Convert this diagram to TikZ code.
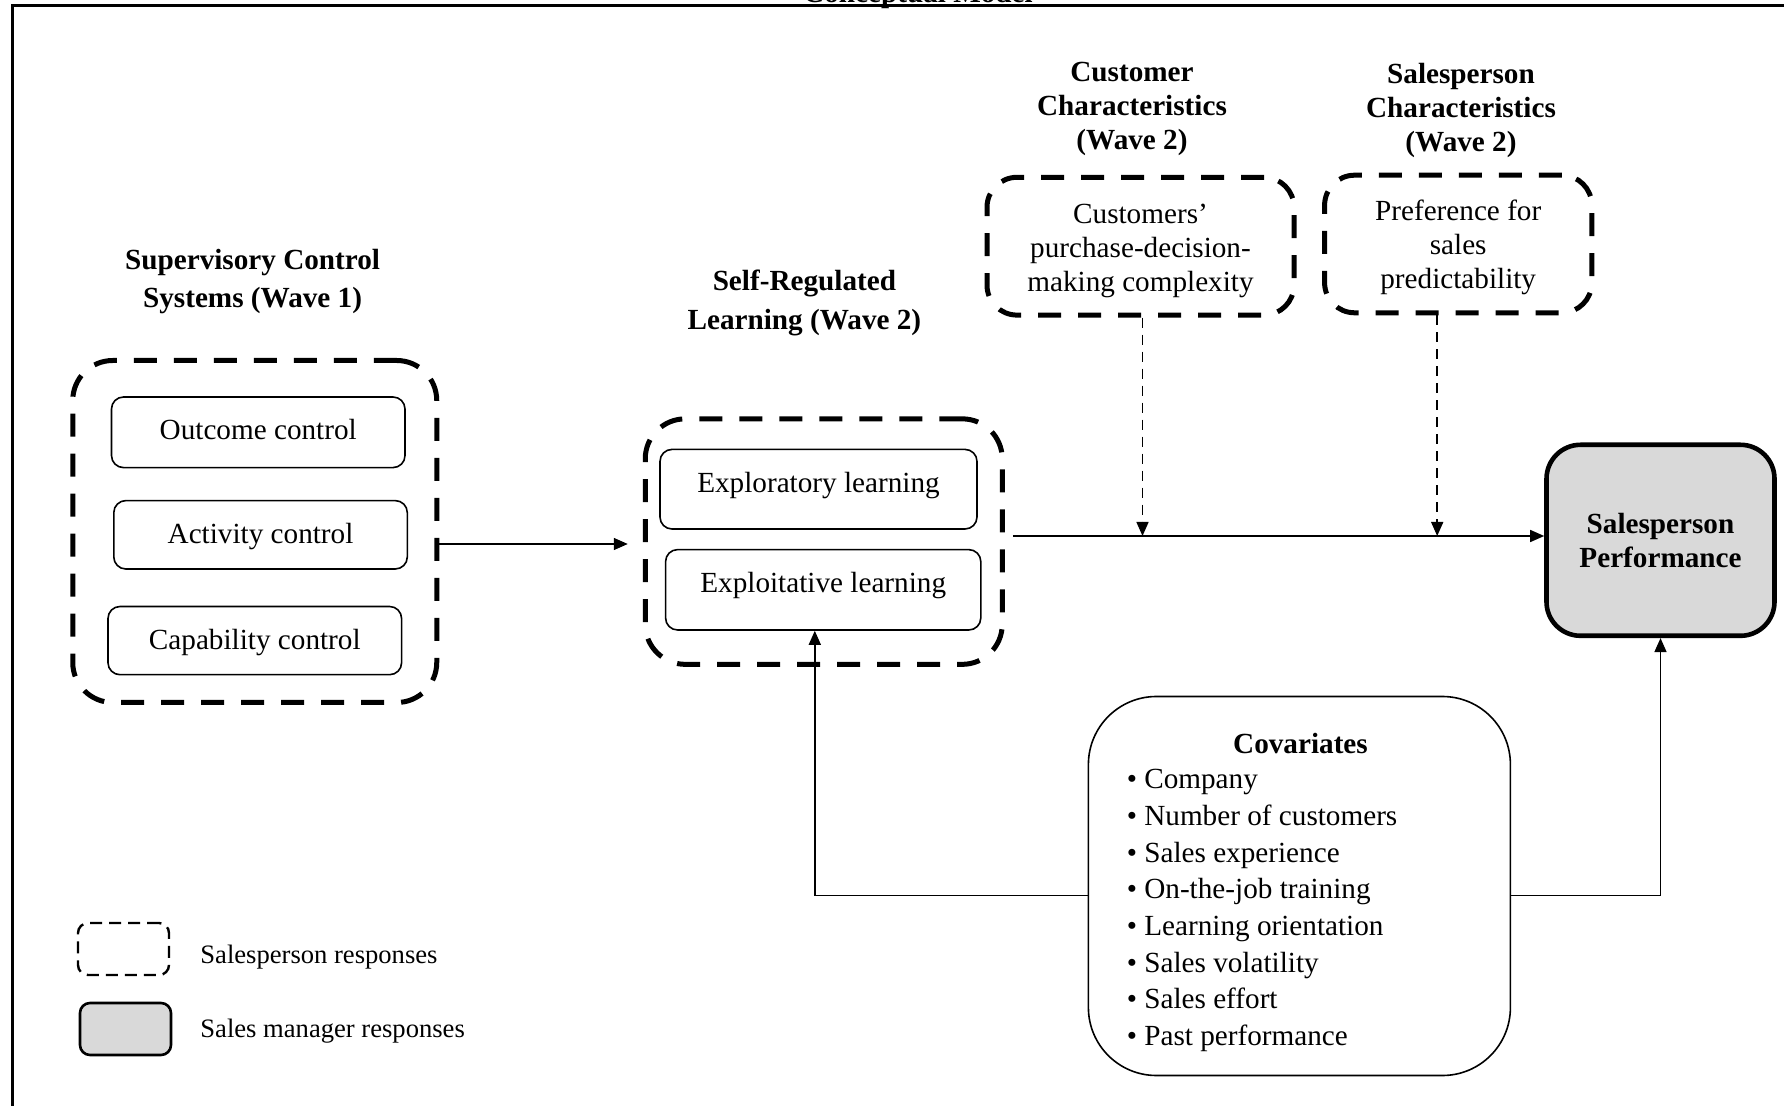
\documentclass[tikz,border=0pt]{standalone}
\usepackage{fontspec}
\setmainfont{Liberation Serif}
\usetikzlibrary{arrows.meta}
\definecolor{boxgray}{HTML}{D9D9D9}
\begin{document}
\begin{tikzpicture}[x=0.5pt,y=-0.5pt,
  every node/.style={font=\fontsize{14.6}{17.5}\selectfont},
  grp/.style={draw,line width=2.5pt,dash pattern=on 11.5pt off 8.5pt,rounded corners=20pt,inner sep=0pt},
  inbox/.style={draw,line width=0.8pt,rounded corners=6pt,inner sep=0pt},
  txt/.style={inner sep=0pt,align=center},
  hdr/.style={align=center,inner sep=0pt,font=\fontsize{14.6}{19.3}\selectfont\bfseries},
  arr/.style={line width=0.75pt,-{Triangle[length=7pt,width=6pt]}},
  darr/.style={arr,dash pattern=on 5pt off 3.5pt},
]
\clip (0,0) rectangle (1784,1106);
\fill[white] (0,0) rectangle (1784,1106);
% frame and clipped title
\draw[line width=1.5pt] (12,1120) -- (12,6) -- (1800,6);
\node[anchor=base,inner sep=0pt,font=\fontsize{14.6}{17}\selectfont\bfseries] (title) at (918,2.7) {Conceptual Model};

% headers
\node[hdr] (h1) at (252.6,281.5) {Supervisory Control\\Systems (Wave 1)};
\node[hdr] (h2) at (804.4,303.2) {Self-Regulated\\Learning (Wave 2)};
\node[hdr,font=\fontsize{14.6}{17.1}\selectfont\bfseries] (h3) at (1132,108.8) {Customer\\Characteristics\\(Wave 2)};
\node[hdr,font=\fontsize{14.6}{17.1}\selectfont\bfseries] (h4) at (1461,110.5) {Salesperson\\Characteristics\\(Wave 2)};

% left group
\node[grp,minimum width=182pt,minimum height=171pt] (g1) at (254.75,531.5) {};
\node[inbox,minimum width=146.75pt,minimum height=35.3pt] (oc) at (258.25,432.3) {};
\node[txt] (ocT) at (258.25,430) {Outcome control};
\node[inbox,minimum width=146.75pt,minimum height=34.2pt] (ac) at (260.55,534.8) {};
\node[txt] (acT) at (260.55,537) {Activity control};
\node[inbox,minimum width=146.8pt,minimum height=34.1pt] (cc) at (254.8,640.6) {};
\node[txt] (ccT) at (254.8,642.9) {Capability control};

% middle group
\node[grp,minimum width=178.5pt,minimum height=122.75pt] (g2) at (823.75,541.6) {};
\node[inbox,minimum width=158.5pt,minimum height=39.8pt] (ex1) at (818.5,489.2) {};
\node[txt] (ex1T) at (818.5,485.8) {Exploratory learning};
\node[inbox,minimum width=157.6pt,minimum height=40.2pt] (ex2) at (823.2,589.8) {};
\node[txt] (ex2T) at (823.2,585.3) {Exploitative learning};

% moderator boxes
\node[grp,rounded corners=15pt,minimum width=153.5pt,minimum height=68.9pt] (cust) at (1140.5,246.2) {};
\node[txt,font=\fontsize{14.6}{17.1}\selectfont] (custT) at (1140.5,250.7) {Customers’\\purchase-decision-\\making complexity};
\node[grp,rounded corners=15pt,minimum width=133.6pt,minimum height=68.8pt] (sal) at (1458.2,244) {};
\node[txt,font=\fontsize{14.6}{17.1}\selectfont] (salT) at (1458.2,247.4) {Preference for\\sales\\predictability};

% outcome
\node[draw,line width=2.3pt,fill=boxgray,rounded corners=17pt,minimum width=114pt,minimum height=95.5pt,inner sep=0pt,align=center,font=\fontsize{14.6}{17}\selectfont\bfseries] (sp) at (1660.5,540.3) {Salesperson\\Performance};

% covariates
\node[draw,line width=0.8pt,rounded corners=34pt,minimum width=211pt,minimum height=189.5pt] (cov) at (1299.4,886) {};
\node[inner sep=0pt,font=\fontsize{14.6}{17.5}\selectfont\bfseries] (covT) at (1300.5,744) {Covariates};
\node[inner sep=0pt,align=left,anchor=west,font=\fontsize{14.6}{18.35}\selectfont] (covL) at (1126.4,910.5) {• Company\\• Number of customers\\• Sales experience\\• On-the-job training\\• Learning orientation\\• Sales volatility\\• Sales effort\\• Past performance};

% connectors
\coordinate (lOut) at ([yshift=-6.25pt]g1.east);
\coordinate (g2L) at ([xshift=-7.5pt]g2.west);
\draw[arr] (lOut) -- (g2L |- lOut);
\coordinate (mOut) at ([xshift=4pt,yshift=2.8pt]g2.east);
\draw[arr] (mOut) -- (mOut -| sp.west);
\coordinate (custB) at ([xshift=1pt]cust.south);
\draw[darr] (custB) -- (custB |- mOut);
\coordinate (salB) at ([xshift=-10.5pt]sal.south);
\draw[darr] (salB) -- (salB |- mOut);
\coordinate (covW) at ([yshift=-4.7pt]cov.west);
\coordinate (exB) at ([xshift=-4.2pt]ex2.south);
\draw[arr] (covW) -| (exB);
\coordinate (covE) at ([yshift=-4.7pt]cov.east);
\draw[arr] (covE) -| (sp.south);

% legend
\node[draw,line width=1.2pt,dash pattern=on 6pt off 3.5pt,rounded corners=5pt,minimum width=45.5pt,minimum height=26pt] (lg1) at (123.5,949) {};
\node[draw,line width=1.3pt,fill=boxgray,rounded corners=5pt,minimum width=45.5pt,minimum height=26pt] (lg2) at (125.5,1029) {};
\node[anchor=west,inner sep=0pt,font=\fontsize{13.3}{16}\selectfont] (lt1) at (200,957) {Salesperson responses};
\node[anchor=west,inner sep=0pt,font=\fontsize{13.3}{16}\selectfont] (lt2) at (200,1031) {Sales manager responses};
\end{tikzpicture}
\end{document}
